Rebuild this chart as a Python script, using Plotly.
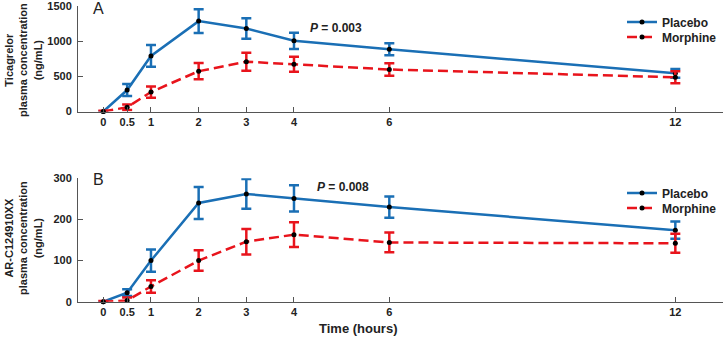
import plotly.graph_objects as go

time_h = [0, 0.5, 1, 2, 3, 4, 6, 12]
tick_text = ["0", "0.5", "1", "2", "3", "4", "6", "12"]

# Panel A: Ticagrelor (ng/mL)
tica_placebo = [0, 305, 790, 1285, 1180, 1005, 885, 543]
tica_placebo_err = [0, 85, 155, 170, 147, 115, 85, 62]
tica_morphine = [0, 60, 277, 573, 708, 672, 597, 486]
tica_morphine_err = [10, 38, 80, 115, 128, 108, 90, 85]
tica_yticks = [0, 500, 1000, 1500]

# Panel B: AR-C124910XX (ng/mL)
arc_placebo = [0, 22, 100, 240, 262, 251, 230, 174]
arc_placebo_err = [0, 8, 27, 39, 36, 32, 26, 21]
arc_morphine = [0, 3, 37, 100, 146, 163, 144, 142]
arc_morphine_err = [2, 7, 15, 25, 31, 30, 24, 23]
arc_yticks = [0, 100, 200, 300]

BLUE = "#1a6fb5"
RED = "#e8141c"
TXT = "#222222"
FONT = "Liberation Sans, Arial, sans-serif"
W, H = 725, 338
L, R = 78, 2
PW = W - L - R

def py2paper(p):
    return 1 - p / H

def px2paper(p):
    return (p - L) / PW

fig = go.Figure()

def add_pair(xa, ya, pl, ple, mo, moe, leg_p, leg_m):
    fig.add_trace(go.Scatter(
        x=time_h, y=pl, name="<b>Placebo</b>", mode="lines+markers",
        line=dict(color=BLUE, width=2.5),
        marker=dict(color="black", size=5),
        error_y=dict(type="data", array=ple, color=BLUE, thickness=2.5, width=5),
        xaxis=xa, yaxis=ya, legend=leg_p, cliponaxis=False))
    fig.add_trace(go.Scatter(
        x=time_h, y=mo, name="<b>Morphine</b>", mode="lines+markers",
        line=dict(color=RED, width=2.5, dash="10px,5px"),
        marker=dict(color="black", size=5),
        error_y=dict(type="data", array=moe, color=RED, thickness=2.5, width=5),
        xaxis=xa, yaxis=ya, legend=leg_m, cliponaxis=False))

add_pair("x", "y", tica_placebo, tica_placebo_err, tica_morphine, tica_morphine_err, "legend", "legend2")
add_pair("x2", "y2", arc_placebo, arc_placebo_err, arc_morphine, arc_morphine_err, "legend3", "legend4")

xrange = [-0.531, 13.0]
axis_common = dict(showline=True, linecolor="#555555", linewidth=1, ticks="inside",
                   tickcolor="#555555", ticklen=5, showgrid=False, zeroline=False,
                   tickfont=dict(family=FONT, size=11, color=TXT), automargin=False,
                   ticklabeloverflow="allow")
bold_x = ["<b>%s</b>" % t for t in tick_text]

def leg(ypx):
    return dict(x=px2paper(622), y=py2paper(ypx), xanchor="left", yanchor="middle",
                bgcolor="rgba(0,0,0,0)", font=dict(family=FONT, size=12, color=TXT),
                itemwidth=30)

fig.update_layout(
    width=W, height=H,
    margin=dict(l=L, r=R, t=0, b=0),
    plot_bgcolor="white", paper_bgcolor="white",
    font=dict(family=FONT, color=TXT),
    xaxis=dict(domain=[0, 1], range=xrange, anchor="y", tickvals=time_h, ticktext=bold_x, **axis_common),
    yaxis=dict(domain=[py2paper(111.5), py2paper(6)], range=[0, 1500], anchor="x", ticklabelstandoff=3,
               tickvals=tica_yticks, ticktext=["<b>%d</b>" % v for v in tica_yticks], **axis_common),
    xaxis2=dict(domain=[0, 1], range=xrange, anchor="y2", tickvals=time_h, ticktext=bold_x, **axis_common),
    yaxis2=dict(domain=[py2paper(301.7), py2paper(178.3)], range=[0, 300], anchor="x2", ticklabelstandoff=3,
                tickvals=arc_yticks, ticktext=["<b>%d</b>" % v for v in arc_yticks], **axis_common),
    legend=leg(22), legend2=leg(37), legend3=leg(193), legend4=leg(208),
    showlegend=True,
)

ann = []
ann.append(dict(text="<b>Ticagrelor<br>plasma concentration<br>(ng/mL)</b>", x=px2paper(23),
                y=py2paper(60), xref="paper", yref="paper", textangle=-90, showarrow=False,
                font=dict(family=FONT, size=11, color=TXT), xanchor="center", yanchor="middle"))
ann.append(dict(text="<b>AR-C124910XX<br>plasma concentration<br>(ng/mL)</b>", x=px2paper(23),
                y=py2paper(238), xref="paper", yref="paper", textangle=-90, showarrow=False,
                font=dict(family=FONT, size=11, color=TXT), xanchor="center", yanchor="middle"))
ann.append(dict(text="A", x=px2paper(98), y=py2paper(8), xref="paper", yref="paper",
                showarrow=False, font=dict(family=FONT, size=16, color=TXT),
                xanchor="center", yanchor="middle"))
ann.append(dict(text="B", x=px2paper(98), y=py2paper(179), xref="paper", yref="paper",
                showarrow=False, font=dict(family=FONT, size=16, color=TXT),
                xanchor="center", yanchor="middle"))
ann.append(dict(text="<b><i>P</i> = 0.003</b>", x=4.29, y=1191, xref="x", yref="y",
                showarrow=False, font=dict(family=FONT, size=12, color=TXT),
                xanchor="left", yanchor="middle"))
ann.append(dict(text="<b><i>P</i> = 0.008</b>", x=4.44, y=280, xref="x2", yref="y2",
                showarrow=False, font=dict(family=FONT, size=12, color=TXT),
                xanchor="left", yanchor="middle"))
ann.append(dict(text="<b>Time (hours)</b>", x=px2paper(358), y=py2paper(328),
                xref="paper", yref="paper", showarrow=False,
                font=dict(family=FONT, size=13, color=TXT), xanchor="center", yanchor="middle"))
fig.update_layout(annotations=ann)

fig.write_html("out.html", config={"displayModeBar": False},
               post_script="document.body.style.margin='0';document.body.style.overflow='hidden';")
